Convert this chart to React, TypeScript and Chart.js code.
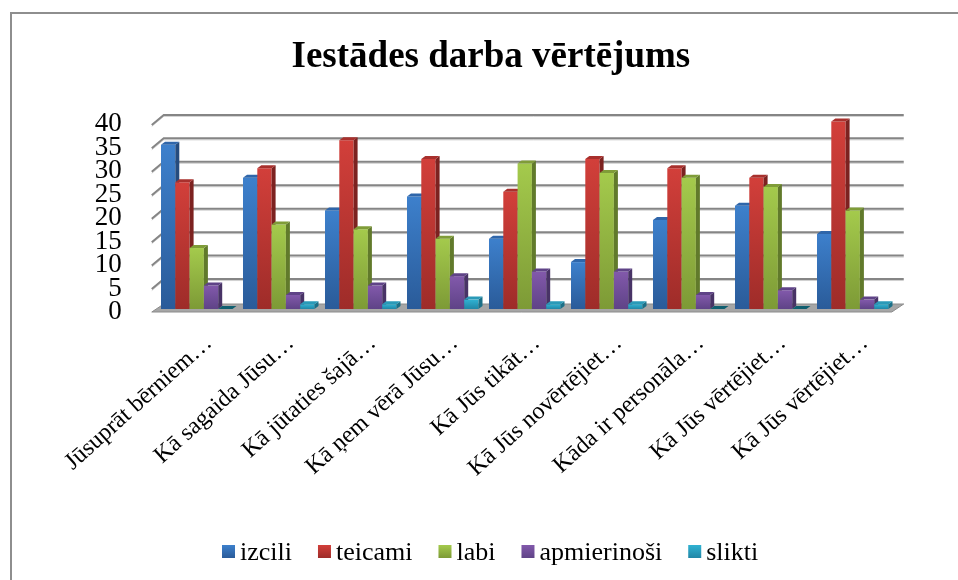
import React, { useEffect, useRef } from "react";
import { Chart, registerables } from "chart.js";

Chart.register(...registerables);

const categories = [
  "Jūsuprāt bērniem…",
  "Kā sagaida Jūsu…",
  "Kā jūtaties šajā…",
  "Kā ņem vērā Jūsu…",
  "Kā Jūs tikāt…",
  "Kā Jūs novērtējiet…",
  "Kāda ir personāla…",
  "Kā Jūs vērtējiet…",
  "Kā Jūs vērtējiet…",
];
const izcili = [35, 28, 21, 24, 15, 10, 19, 22, 16];
const teicami = [27, 30, 36, 32, 25, 32, 30, 28, 40];
const labi = [13, 18, 17, 15, 31, 29, 28, 26, 21];
const apmierinosi = [5, 3, 5, 7, 8, 8, 3, 4, 2];
const slikti = [0, 1, 1, 2, 1, 1, 0, 0, 1];

const seriesNames = ["izcili", "teicami", "labi", "apmierinoši", "slikti"];
const seriesValues = [izcili, teicami, labi, apmierinosi, slikti];
const palette = [
  { light: "#3d80cc", dark: "#2a5b99", side: "#254c7e", top: "#2f66aa" },
  { light: "#d23f3a", dark: "#9e2c29", side: "#7c2220", top: "#a8302d" },
  { light: "#a4ca4c", dark: "#7d9a36", side: "#617a2b", top: "#7f9c38" },
  { light: "#8259ab", dark: "#5f4387", side: "#483366", top: "#5f4387" },
  { light: "#30b2d2", dark: "#2186a6", side: "#1b7088", top: "#2a9ab8" },
];

const DEPTH_X = 4;
const DEPTH_Y = 3;
const SERIF = "'Liberation Serif', serif";

const bars3d = {
  id: "bars3d",
  beforeDatasetsDraw(chart: any) {
    const { ctx, scales } = chart;
    const { x, y } = scales;
    const left = x.left - 4;
    const right = x.right - 2;
    const y0 = y.getPixelForValue(0);
    ctx.save();
    // floor
    ctx.fillStyle = "#a6a6a6";
    ctx.strokeStyle = "#8c8c8c";
    ctx.lineWidth = 1;
    ctx.beginPath();
    ctx.moveTo(left, y0 + 3);
    ctx.lineTo(left + 12, y0 - 5);
    ctx.lineTo(right + 12, y0 - 5);
    ctx.lineTo(right, y0 + 3);
    ctx.closePath();
    ctx.fill();
    ctx.stroke();
    // gridlines on the wall and the left side
    for (const tick of y.ticks) {
      if (tick.value === 0) continue;
      const py = y.getPixelForValue(tick.value);
      ctx.strokeStyle = "#cfcfcf";
      ctx.lineWidth = 1;
      ctx.beginPath();
      ctx.moveTo(left, py + 5);
      ctx.lineTo(left + 12, py - 5);
      ctx.lineTo(right + 12, py - 5);
      ctx.stroke();
      ctx.strokeStyle = "#858585";
      ctx.lineWidth = 2;
      ctx.beginPath();
      ctx.moveTo(left, py + 3.5);
      ctx.lineTo(left + 12, py - 6.5);
      ctx.lineTo(right + 12, py - 6.5);
      ctx.stroke();
    }
    // bars in series order with side and top faces
    seriesValues.forEach((_, i) => {
      const meta = chart.getDatasetMeta(i);
      meta.controller.draw();
      meta.data.forEach((bar: any) => {
        const hw = bar.width / 2;
        const l = bar.x - hw;
        const r = bar.x + hw;
        const t = bar.y;
        const b = bar.base;
        ctx.fillStyle = palette[i].side;
        ctx.beginPath();
        ctx.moveTo(r, t);
        ctx.lineTo(r + DEPTH_X, t - DEPTH_Y);
        ctx.lineTo(r + DEPTH_X, b - DEPTH_Y);
        ctx.lineTo(r, b);
        ctx.closePath();
        ctx.fill();
        ctx.fillStyle = b - t < 1 ? "#0f5f70" : palette[i].top;
        ctx.beginPath();
        ctx.moveTo(l, t);
        ctx.lineTo(l + DEPTH_X, t - DEPTH_Y);
        ctx.lineTo(r + DEPTH_X, t - DEPTH_Y);
        ctx.lineTo(r, t);
        ctx.closePath();
        ctx.fill();
      });
    });
    ctx.restore();
    return false;
  },
  afterDraw(chart: any) {
    const { ctx } = chart;
    ctx.save();
    // outer frame
    ctx.strokeStyle = "#8e8e8e";
    ctx.lineWidth = 2;
    ctx.beginPath();
    ctx.moveTo(11, 580);
    ctx.lineTo(11, 13);
    ctx.lineTo(958, 13);
    ctx.stroke();
    // legend
    ctx.font = `26px ${SERIF}`;
    ctx.textBaseline = "alphabetic";
    ctx.textAlign = "left";
    let lx = 222;
    seriesNames.forEach((name, i) => {
      const grad = ctx.createLinearGradient(0, 545, 0, 558);
      grad.addColorStop(0, palette[i].light);
      grad.addColorStop(1, palette[i].dark);
      ctx.fillStyle = grad;
      ctx.fillRect(lx, 545, 13, 13);
      ctx.fillStyle = "#000";
      ctx.fillText(name, lx + 18, 560);
      lx += 18 + ctx.measureText(name).width + 26;
    });
    ctx.restore();
  },
};

export default function App() {
  const ref = useRef<HTMLCanvasElement>(null);
  useEffect(() => {
    const canvas = ref.current!;
    const g = canvas.getContext("2d")!;
    const chart = new Chart(canvas, {
      type: "bar",
      plugins: [bars3d],
      data: {
        labels: categories,
        datasets: seriesNames.map((label, i) => ({
          label,
          data: seriesValues[i],
          backgroundColor: (c: any) => {
            const area = c.chart.chartArea;
            if (c.type !== "data" || !area) return palette[i].dark;
            const top = c.chart.scales.y.getPixelForValue(c.raw);
            const bottom = c.chart.scales.y.getPixelForValue(0);
            const grad = g.createLinearGradient(0, top, 0, Math.max(bottom, top + 1));
            grad.addColorStop(0, palette[i].light);
            grad.addColorStop(1, palette[i].dark);
            return grad;
          },
          borderWidth: 0,
        })),
      },
      options: {
        responsive: false,
        animation: false,
        layout: { padding: { left: 88, right: 64.25, top: 35, bottom: 8 } },
        plugins: {
          tooltip: { enabled: false },
          legend: { display: false },
          title: {
            display: true,
            text: "Iestādes darba vērtējums",
            color: "#000",
            font: { family: SERIF, size: 37, weight: "bold" },
            padding: { top: 0, bottom: 42 },
          },
        },
        datasets: { bar: { categoryPercentage: 0.872, barPercentage: 1 } },
        scales: {
          x: {
            grid: { display: false },
            border: { display: false },
            afterFit: (s: any) => { s.height = 263; },
            ticks: {
              color: "#000",
              font: { family: SERIF, size: 24 },
              maxRotation: 42,
              minRotation: 42,
              autoSkip: false,
              padding: 12,
              labelOffset: 12,
            },
          },
          y: {
            min: 0,
            max: 40,
            grid: { display: false },
            border: { display: false },
            afterFit: (s: any) => { s.width = 67.75; },
            ticks: {
              color: "#000",
              font: { family: SERIF, size: 27 },
              stepSize: 5,
              autoSkip: false,
              padding: 26,
              labelOffset: 3,
            },
          },
        },
      } as any,
    });
    return () => chart.destroy();
  }, []);
  return (
    <div style={{ position: "absolute", left: 0, top: 0, width: 958, height: 580, background: "#fff" }}>
      <canvas ref={ref} width={958} height={580} style={{ display: "block" }} />
    </div>
  );
}
